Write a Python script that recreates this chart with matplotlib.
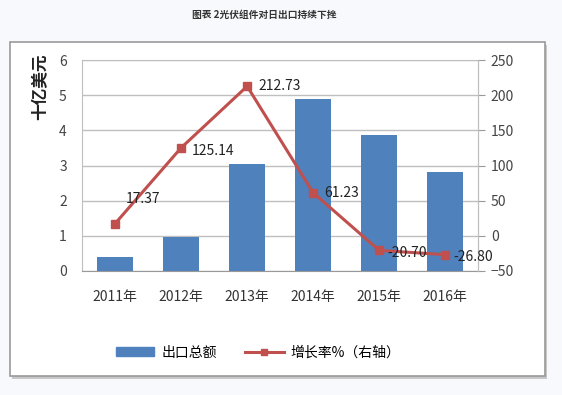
import numpy as np
import matplotlib.pyplot as plt
from matplotlib.patches import Rectangle
from matplotlib.lines import Line2D

plt.rcParams['font.family'] = ['Noto Sans CJK SC', 'DejaVu Sans']

years = ['2011年', '2012年', '2013年', '2014年', '2015年', '2016年']
export_total = [0.40, 0.97, 3.04, 4.89, 3.86, 2.81]
growth = [17.37, 125.14, 212.73, 61.23, -20.70, -26.80]
growth_labels = ['17.37', '125.14', '212.73', '61.23', '-20.70', '-26.80']
label_offsets = [(8, 18), (8, -2), (8, 0), (8, 0), (6, -2), (6, -2)]

fig = plt.figure(figsize=(5.62, 3.95), dpi=100, facecolor='#f7f9fc')

# outer frame with a faint shadow
fig.patches.append(Rectangle((0.021, 0.040), 0.952, 0.846, transform=fig.transFigure,
                             facecolor='#c8c8c8', edgecolor='none', zorder=-2))
fig.patches.append(Rectangle((0.0178, 0.048), 0.952, 0.846, transform=fig.transFigure,
                             facecolor='white', edgecolor='#9a9a9a', linewidth=1.2, zorder=-1))

fig.text(0.47, 0.962, '图表 2光伏组件对日出口持续下挫', ha='center', va='center',
         fontsize=7, fontweight='bold', color='#333333')

ax = fig.add_axes([0.146, 0.314, 0.705, 0.534])
ax.set_facecolor('white')
x = np.arange(len(years))
ax.bar(x, export_total, width=0.55, color='#4f81bd', zorder=2)
ax.set_xlim(-0.5, len(years) - 0.5)
ax.set_ylim(0, 6)
ax.set_yticks(range(0, 7))
ax.set_xticks(x)
ax.set_xticklabels(years)
ax.grid(axis='y', color='#bfbfbf', linewidth=1, zorder=0)
ax.tick_params(axis='x', length=0, pad=14, labelsize=10, colors='#333333')
ax.tick_params(axis='y', length=0, pad=11, labelsize=10, colors='#444444')
for s in ax.spines.values():
    s.set_color('#bfbfbf')
ax.spines['bottom'].set_color('#999999')

fig.text(0.072, 0.78, '十亿美元', rotation=90, ha='center', va='center',
         fontsize=12, fontweight='bold', color='#222222')

ax2 = ax.twinx()
ax2.plot(x, growth, color='#c0504d', linewidth=2.2, marker='s', markersize=6, zorder=3)
ax2.set_ylim(-50, 250)
ax2.set_yticks(range(-50, 251, 50))
ax2.tick_params(axis='y', length=5, direction='out', color='#999999', pad=4,
                labelsize=10, colors='#444444')
for s in ax2.spines.values():
    s.set_visible(False)
ax2.spines['right'].set_visible(True)
ax2.spines['right'].set_color('#bfbfbf')

for xi, yi, lab, off in zip(x, growth, growth_labels, label_offsets):
    ax2.annotate(lab, (xi, yi), xytext=off, textcoords='offset points',
                 ha='left', va='center', fontsize=10, color='#222222')

handles = [Rectangle((0, 0), 1, 1, color='#4f81bd'),
           Line2D([0], [0], color='#c0504d', linewidth=2.2, marker='s', markersize=5)]
fig.legend(handles, ['出口总额', '增长率%（右轴）'], loc='center', bbox_to_anchor=(0.459, 0.107),
           ncol=2, frameon=False, fontsize=10, handlelength=2.8, handleheight=0.6,
           handletextpad=0.5, columnspacing=2.0)

fig.savefig('out.png', dpi=100, facecolor=fig.get_facecolor())
